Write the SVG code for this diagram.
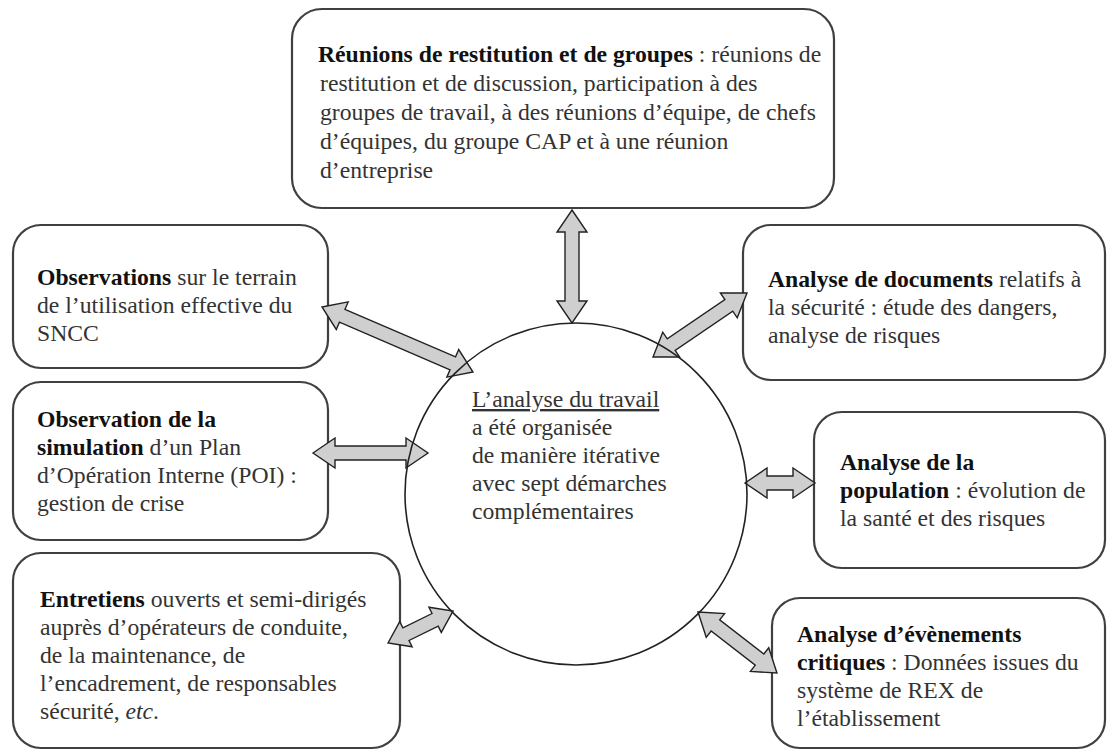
<svg xmlns="http://www.w3.org/2000/svg" width="1110" height="751" viewBox="0 0 1110 751">
<style>
.box{fill:#fff;stroke:#404040;stroke-width:2.2}
.circ{fill:none;stroke:#222;stroke-width:1.6}
.arr{fill:#cfcfcf;stroke:#222;stroke-width:1.4;stroke-linejoin:miter}
text{font-family:"Liberation Serif","Times New Roman",serif;font-size:23.7px;fill:#333}
.b{font-weight:bold;fill:#111}
</style>
<rect width="1110" height="751" fill="#fff"/>
<g id="node-reunions">
<rect class="box" x="292" y="9" width="542" height="199" rx="30"/>
<text x="318" y="62"> <tspan class="b">Réunions de restitution et de groupes</tspan> : réunions de</text>
<text x="320" y="91">restitution et de discussion, participation à des</text>
<text x="320" y="120">groupes de travail, à des réunions d’équipe, de chefs</text>
<text x="320" y="149">d’équipes, du groupe CAP et à une réunion</text>
<text x="320" y="178">d’entreprise</text>
</g>
<g id="node-observations">
<rect class="box" x="13" y="225" width="315" height="143" rx="28"/>
<text x="37" y="285"><tspan class="b">Observations</tspan> sur le terrain</text>
<text x="37" y="313">de l’utilisation effective du</text>
<text x="37" y="341">SNCC</text>
</g>
<g id="node-simulation">
<rect class="box" x="13" y="382" width="315" height="158" rx="28"/>
<text x="37" y="427" class="b">Observation de la</text>
<text x="37" y="455"><tspan class="b">simulation</tspan> d’un Plan</text>
<text x="37" y="483">d’Opération Interne (POI) :</text>
<text x="37" y="511">gestion de crise</text>
</g>
<g id="node-entretiens">
<rect class="box" x="13" y="553" width="387" height="195" rx="28"/>
<text x="40" y="607"><tspan class="b">Entretiens</tspan> ouverts et semi-dirigés</text>
<text x="40" y="635">auprès d’opérateurs de conduite,</text>
<text x="40" y="663">de la maintenance, de</text>
<text x="40" y="691">l’encadrement, de responsables</text>
<text x="40" y="719">sécurité, <tspan font-style="italic">etc</tspan>.</text>
</g>
<g id="node-documents">
<rect class="box" x="743" y="225" width="362" height="155" rx="28"/>
<text x="768" y="287"><tspan class="b">Analyse de documents</tspan> relatifs à</text>
<text x="768" y="315">la sécurité : étude des dangers,</text>
<text x="768" y="343">analyse de risques</text>
</g>
<g id="node-population">
<rect class="box" x="814" y="412" width="291" height="156" rx="28"/>
<text x="840" y="470" class="b">Analyse de la</text>
<text x="840" y="498"><tspan class="b">population</tspan> : évolution de</text>
<text x="840" y="526">la santé et des risques</text>
</g>
<g id="node-evenements">
<rect class="box" x="772" y="598" width="333" height="150" rx="28"/>
<text x="797" y="642" class="b">Analyse d’évènements</text>
<text x="797" y="670"><tspan class="b">critiques</tspan> : Données issues du</text>
<text x="797" y="698">système de REX de</text>
<text x="797" y="726">l’établissement</text>
</g>
<g id="connectors">
<path class="arr" transform="translate(572,210) rotate(90)" d="M0,0 L22,-15 L22,-7 L91,-7 L91,-15 L113,0 L91,15 L91,7 L22,7 L22,15 Z"/>
<path class="arr" transform="translate(322,307) rotate(23.3)" d="M0,0 L22,-15 L22,-7 L142.4,-7 L142.4,-15 L164.4,0 L142.4,15 L142.4,7 L22,7 L22,15 Z"/>
<path class="arr" transform="translate(747,293) rotate(145.75)" d="M0,0 L22,-15 L22,-7 L91.7,-7 L91.7,-15 L113.7,0 L91.7,15 L91.7,7 L22,7 L22,15 Z"/>
<path class="arr" transform="translate(313,453)" d="M0,0 L22,-15 L22,-7 L93,-7 L93,-15 L115,0 L93,15 L93,7 L22,7 L22,15 Z"/>
<path class="arr" transform="translate(745,483)" d="M0,0 L22,-15 L22,-7 L48,-7 L48,-15 L70,0 L48,15 L48,7 L22,7 L22,15 Z"/>
<path class="arr" transform="translate(388,643) rotate(-26.2)" d="M0,0 L20,-14 L20,-7 L52.5,-7 L52.5,-14 L72.5,0 L52.5,14 L52.5,7 L20,7 L20,14 Z"/>
<path class="arr" transform="translate(698,612) rotate(37.7)" d="M0,0 L22,-15 L22,-7 L77.8,-7 L77.8,-15 L99.8,0 L77.8,15 L77.8,7 L22,7 L22,15 Z"/>
</g>
<g id="node-center">
<circle class="circ" cx="576" cy="494" r="171"/>
<text x="472" y="407" text-decoration="underline">L’analyse du travail</text>
<text x="472" y="435">a été organisée</text>
<text x="472" y="463">de manière itérative</text>
<text x="472" y="491">avec sept démarches</text>
<text x="472" y="519">complémentaires</text>
</g>
</svg>
